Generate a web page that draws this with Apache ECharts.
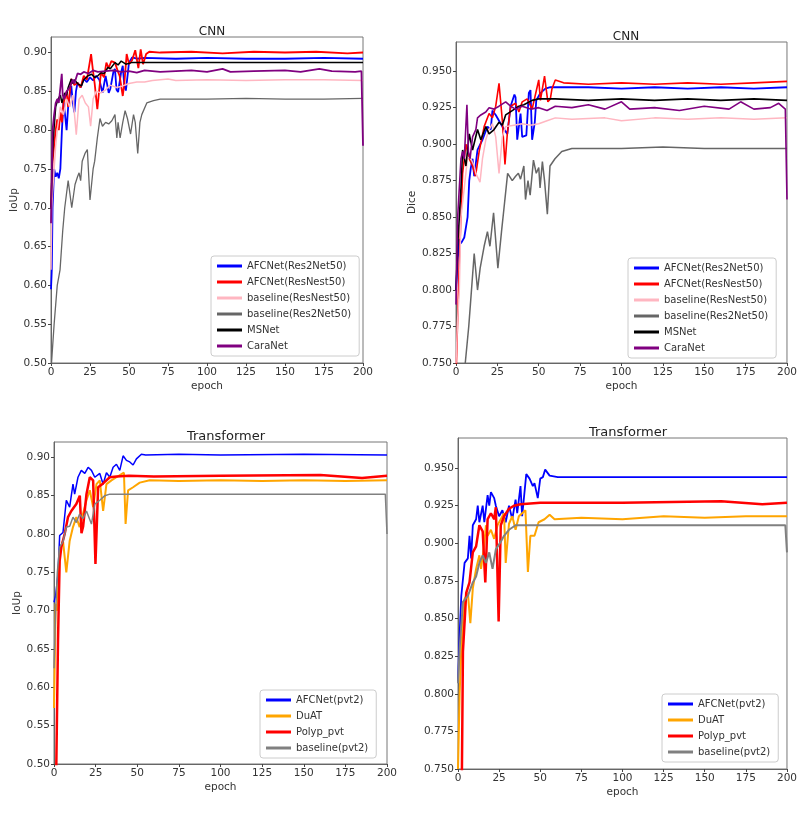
<!DOCTYPE html>
<html lang="en">
<head>
	<meta charset="UTF-8">
	<title>training curves</title>
	<script src="https://cdn.jsdelivr.net/npm/echarts@6/dist/echarts.min.js"></script>
</head>
<body style="margin:0;background:#fff;">
	<div id="main" style="width:800px;height:817px;"></div>
<script type="text/javascript">
	// [epoch, value] pairs
	// --- CNN, IoUp ---
	const cnnIouAfcRes2 = [[0,0.595],[0.5,0.62],[1,0.70],[2,0.75],[3,0.74],[4,0.745],[5,0.738],[6,0.75],[7,0.80],[8,0.836],[9,0.82],[10,0.80],[11,0.83],[12,0.845],[13,0.857],[14,0.835],[15,0.823],[16,0.85],[17,0.861],[19,0.855],[21,0.866],[23,0.862],[25,0.868],[27,0.864],[29,0.87],[31,0.865],[33,0.848],[35,0.87],[37,0.848],[38,0.853],[40,0.875],[41,0.879],[42,0.852],[43,0.849],[45,0.875],[46,0.883],[47,0.857],[48,0.851],[50,0.887],[52,0.8936],[55,0.892],[60,0.893],[80,0.892],[100,0.893],[125,0.892],[150,0.892],[175,0.893],[200,0.892]];
	const cnnIouAfcResN = [[0,0.70],[1,0.76],[2,0.78],[3,0.80],[4,0.814],[5,0.80],[6,0.823],[7,0.81],[8,0.835],[10,0.849],[11,0.83],[13,0.866],[15,0.858],[17,0.861],[19,0.855],[21,0.87],[23,0.865],[25.7,0.898],[27,0.875],[28,0.86],[29.7,0.827],[30.7,0.826],[32,0.874],[34,0.868],[35.5,0.887],[37,0.88],[38.7,0.889],[41,0.887],[43,0.875],[44,0.87],[46,0.844],[47,0.86],[48.5,0.898],[50,0.885],[52,0.89],[54,0.903],[56,0.880],[57.5,0.904],[59,0.885],[61,0.898],[63,0.901],[70,0.900],[90,0.901],[110,0.899],[130,0.901],[150,0.900],[170,0.901],[190,0.899],[200,0.90]];
	const cnnIouBaseResN = [[0,0.62],[0.5,0.70],[1,0.72],[2,0.75],[3,0.78],[4,0.80],[6,0.83],[8,0.82],[10,0.84],[12,0.83],[14,0.845],[16.2,0.794],[18,0.84],[20,0.845],[22,0.835],[24,0.83],[25.4,0.805],[27,0.84],[29,0.85],[32,0.848],[35,0.852],[38,0.858],[42,0.855],[46,0.857],[50,0.86],[55,0.862],[60,0.862],[65,0.864],[75,0.866],[80,0.864],[100,0.865],[125,0.864],[150,0.865],[175,0.865],[200,0.864]];
	const cnnIouBaseRes2 = [[0,0.49],[2,0.55],[4,0.60],[5.8,0.62],[7.5,0.67],[8.8,0.70],[11,0.735],[12,0.72],[13.3,0.70],[15.4,0.73],[17,0.74],[18,0.745],[19,0.735],[20,0.76],[21.8,0.77],[23.3,0.775],[25,0.71],[27,0.75],[28,0.76],[29.7,0.79],[31.4,0.815],[33,0.805],[35,0.81],[37,0.808],[39,0.812],[41,0.82],[42.2,0.79],[43,0.81],[44.3,0.79],[46,0.81],[47.5,0.825],[49,0.815],[51,0.795],[52.9,0.82],[54,0.81],[55.6,0.77],[57,0.81],[58.2,0.82],[61.4,0.835],[65.7,0.838],[70,0.84],[100,0.84],[125,0.841],[150,0.84],[175,0.84],[200,0.841]];
	const cnnIouMsnet = [[0,0.70],[1,0.77],[1.5,0.79],[3,0.83],[4.5,0.84],[6,0.845],[7,0.835],[8.8,0.848],[10,0.845],[11,0.855],[13,0.866],[14,0.86],[15,0.865],[17,0.86],[19.5,0.857],[21,0.865],[23.7,0.87],[26,0.872],[28,0.868],[30,0.87],[32,0.874],[34,0.873],[36.6,0.881],[38,0.879],[41,0.887],[43,0.884],[45,0.889],[48,0.885],[51.6,0.887],[60,0.887],[100,0.887],[150,0.887],[200,0.887]];
	const cnnIouCaranet = [[0,0.68],[1,0.80],[2,0.82],[3,0.835],[4,0.84],[5,0.835],[6.9,0.8725],[7.5,0.845],[8.5,0.84],[10,0.85],[12,0.855],[14,0.865],[15,0.86],[17,0.873],[19,0.872],[21,0.875],[24,0.873],[27,0.877],[30,0.875],[35,0.876],[40,0.877],[45,0.875],[50,0.876],[55,0.874],[60,0.877],[70,0.875],[80,0.876],[90,0.877],[100,0.875],[110,0.879],[115,0.875],[130,0.876],[150,0.877],[160,0.875],[172,0.879],[180,0.876],[195,0.875],[199,0.876],[200,0.78]];

	// --- CNN, Dice ---
	const cnnDiceAfcRes2 = [[0,0.80],[1,0.82],[2,0.835],[3,0.832],[5,0.836],[6,0.835],[7,0.85],[8,0.875],[9,0.884],[10,0.89],[11,0.878],[13,0.896],[16,0.903],[19,0.912],[21,0.91],[22,0.923],[24,0.92],[26,0.916],[28,0.912],[31,0.907],[33,0.926],[35.3,0.934],[36,0.932],[37,0.903],[39,0.921],[40,0.905],[42.5,0.906],[44,0.935],[45,0.937],[46,0.903],[47.6,0.915],[48.5,0.93],[51,0.935],[54,0.938],[57,0.939],[60,0.939],[80,0.939],[100,0.938],[120,0.939],[140,0.938],[160,0.939],[180,0.938],[200,0.939]];
	const cnnDiceAfcResN = [[0,0.74],[1,0.78],[2,0.82],[3,0.85],[4,0.88],[6,0.90],[8,0.89],[10,0.885],[11.8,0.878],[14,0.895],[17,0.912],[20,0.921],[22,0.918],[24,0.926],[26,0.9416],[28,0.916],[29.6,0.886],[31,0.907],[33,0.926],[36,0.928],[38,0.922],[40,0.929],[43,0.931],[46,0.924],[49,0.939],[50,0.944],[51,0.93],[53.5,0.9466],[55.5,0.929],[57,0.931],[58,0.938],[60,0.944],[65,0.942],[80,0.941],[100,0.942],[120,0.941],[140,0.942],[160,0.941],[180,0.942],[200,0.943]];
	const cnnDiceBaseResN = [[0,0.75],[1,0.78],[2,0.80],[3,0.85],[5,0.87],[7,0.891],[9,0.89],[11,0.885],[12,0.88],[14.5,0.874],[16,0.89],[18,0.903],[20,0.91],[22,0.914],[24,0.905],[26,0.88],[28,0.905],[30,0.912],[35,0.913],[40,0.914],[45,0.913],[50,0.914],[55,0.916],[60,0.918],[70,0.917],[90,0.918],[100,0.916],[120,0.918],[140,0.917],[160,0.918],[180,0.917],[200,0.918]];
	const cnnDiceBaseRes2 = [[0,0.62],[2,0.68],[4,0.72],[5.6,0.75],[7.7,0.775],[8.7,0.79],[11,0.825],[13,0.80],[14.6,0.815],[17,0.83],[19,0.84],[20.5,0.83],[22.7,0.853],[25.3,0.815],[27.5,0.84],[28.9,0.855],[31.2,0.88],[34,0.875],[36,0.878],[37.7,0.88],[39,0.876],[41,0.885],[42,0.862],[43.5,0.875],[44.8,0.865],[46.8,0.889],[48.5,0.88],[50,0.884],[50.8,0.87],[52.2,0.888],[53.5,0.875],[55.2,0.852],[56.8,0.885],[59.8,0.89],[63.9,0.895],[70,0.897],[100,0.897],[125,0.898],[150,0.897],[200,0.897]];
	const cnnDiceMsnet = [[0,0.80],[1,0.83],[2,0.85],[3,0.87],[4,0.896],[6,0.885],[8,0.907],[10,0.896],[13,0.91],[15,0.903],[18,0.912],[20,0.907],[23,0.91],[26,0.915],[28,0.913],[30,0.92],[34,0.923],[38,0.926],[41,0.927],[46,0.93],[50,0.931],[60,0.931],[80,0.930],[100,0.931],[120,0.930],[140,0.931],[160,0.930],[180,0.931],[200,0.930]];
	const cnnDiceCaranet = [[0,0.79],[1,0.85],[2,0.87],[3,0.89],[4,0.895],[5,0.89],[6.6,0.927],[7.5,0.895],[8.5,0.89],[10,0.905],[12,0.91],[13,0.918],[15,0.92],[18,0.922],[20,0.925],[23,0.924],[26,0.926],[30,0.929],[33,0.926],[36,0.924],[40,0.926],[45,0.924],[50,0.925],[55,0.923],[60,0.926],[70,0.925],[80,0.927],[90,0.924],[100,0.929],[105,0.924],[120,0.925],[135,0.923],[150,0.926],[165,0.924],[172,0.929],[180,0.924],[190,0.925],[195,0.928],[199,0.924],[200,0.862]];

	// --- Transformer, IoUp ---
	const trIouAfc = [[0,0.711],[1,0.72],[2.4,0.748],[3.4,0.798],[5.4,0.802],[7.4,0.844],[9.4,0.835],[11.4,0.865],[12.4,0.852],[14.4,0.874],[16.4,0.883],[18.5,0.879],[20.5,0.887],[22.5,0.883],[24.5,0.874],[27.5,0.879],[29.5,0.865],[31.5,0.88],[33.5,0.874],[35.5,0.887],[37.5,0.891],[39.5,0.883],[41.5,0.902],[43.5,0.896],[45.5,0.894],[47.5,0.89],[49.5,0.898],[52.5,0.904],[55,0.903],[75,0.904],[100,0.903],[150,0.904],[200,0.903]];
	const trIouDuat = [[0,0.573],[1,0.709],[2,0.70],[3.4,0.778],[5.4,0.791],[7.4,0.75],[9.4,0.791],[11.4,0.809],[13.4,0.822],[15.4,0.809],[17.4,0.826],[19.5,0.844],[21.5,0.857],[23.5,0.835],[25.5,0.865],[27.5,0.87],[29.5,0.83],[31.5,0.865],[34.5,0.87],[37.5,0.874],[40.5,0.878],[42,0.88],[43,0.813],[44.5,0.857],[47.5,0.861],[51.5,0.867],[57.5,0.87],[75,0.869],[100,0.87],[125,0.869],[150,0.87],[175,0.869],[200,0.87]];
	const trIouPolyp = [[1,0.45],[1.4,0.50],[2.4,0.66],[3.4,0.765],[4.4,0.783],[6.4,0.80],[8.4,0.822],[10.4,0.83],[13.4,0.839],[15.5,0.85],[16.5,0.801],[17.5,0.81],[19.5,0.852],[21.5,0.874],[23.5,0.87],[24.9,0.761],[26.5,0.861],[29.5,0.866],[33.5,0.874],[37.5,0.875],[45,0.876],[60,0.875],[100,0.876],[160,0.877],[185,0.873],[200,0.876]];
	const trIouBase = [[0,0.625],[1,0.70],[2,0.75],[3.4,0.783],[5.4,0.79],[7.4,0.809],[9.4,0.81],[11.4,0.822],[13.4,0.815],[15.4,0.826],[17.4,0.82],[19.5,0.83],[22.5,0.813],[24.5,0.839],[27.5,0.844],[30.5,0.85],[33.5,0.852],[40,0.852],[100,0.852],[172,0.852],[199,0.852],[200,0.80]];

	// --- Transformer, Dice ---
	const trDiceAfc = [[0,0.808],[1,0.84],[2,0.865],[4,0.887],[6,0.89],[7,0.905],[8,0.89],[9,0.912],[11,0.916],[12,0.925],[13,0.914],[15,0.925],[16,0.914],[18,0.932],[19,0.925],[20,0.934],[22,0.93],[23,0.925],[25,0.918],[27,0.922],[29,0.914],[31,0.925],[33,0.916],[35,0.929],[36,0.92],[38,0.938],[39,0.918],[41.5,0.946],[43.5,0.943],[45.5,0.938],[46.5,0.94],[48.5,0.93],[50,0.943],[51.6,0.944],[53,0.949],[55.7,0.945],[60.7,0.944],[100,0.944],[150,0.944],[200,0.944]];
	const trDicePolyp = [[2,0.70],[3,0.828],[5,0.867],[7,0.874],[9,0.894],[11,0.898],[13,0.912],[15,0.908],[16.6,0.874],[18,0.916],[20,0.92],[22,0.916],[23,0.924],[24.7,0.848],[26,0.912],[28,0.918],[31,0.923],[34,0.925],[38,0.926],[50,0.927],[100,0.927],[160,0.928],[185,0.926],[200,0.927]];
	const trDiceDuat = [[0,0.75],[1,0.80],[2,0.83],[4,0.863],[6,0.867],[7.5,0.847],[9,0.87],[11,0.883],[13,0.892],[14,0.883],[15.8,0.898],[17,0.912],[18,0.905],[20,0.909],[22,0.903],[24,0.912],[26,0.916],[28,0.92],[29,0.887],[31,0.913],[33,0.918],[35,0.909],[37,0.918],[39,0.92],[41,0.922],[42.5,0.881],[44,0.905],[46.5,0.905],[49,0.914],[52.6,0.916],[55.7,0.919],[58.7,0.916],[75,0.917],[100,0.916],[125,0.918],[150,0.917],[175,0.918],[200,0.918]];
	const trDiceBase = [[0,0.807],[1,0.83],[3,0.861],[6,0.865],[9,0.874],[11,0.878],[13,0.887],[15,0.892],[17,0.887],[19,0.894],[21,0.883],[23,0.896],[26,0.901],[28,0.905],[31,0.909],[35,0.912],[40,0.912],[100,0.912],[199,0.912],[200,0.894]];

	const cnnNames = ['AFCNet(Res2Net50)', 'AFCNet(ResNest50)', 'baseline(ResNest50)', 'baseline(Res2Net50)', 'MSNet', 'CaraNet'];
	const trNames = ['AFCNet(pvt2)', 'DuAT', 'Polyp_pvt', 'baseline(pvt2)'];
	const epochTicks = [0, 200, 25];

	const font = 'DejaVu Sans';
	let myChart = echarts.init(document.getElementById('main'));

	// grid boxes, in pixels
	const boxes = [
		{ left: 51, top: 37, width: 312, height: 326 },
		{ left: 456, top: 42, width: 332, height: 321 },
		{ left: 54, top: 442, width: 333, height: 322 },
		{ left: 458, top: 438, width: 330, height: 331 }
	];

	function makeLine(name, data, color, width, idx) {
		return {
			name: name,
			type: 'line',
			xAxisIndex: idx,
			yAxisIndex: idx,
			data: data,
			symbol: 'none',
			smooth: false,
			animation: false,
			lineStyle: { color: color, width: width },
			itemStyle: { color: color },
			clip: true
		};
	}

	function makeX(idx) {
		return {
			type: 'value', gridIndex: idx,
			min: epochTicks[0], max: epochTicks[1], interval: epochTicks[2],
			name: 'epoch', nameLocation: 'middle', nameGap: 18,
			nameTextStyle: { fontFamily: font, fontSize: 10.5, color: '#333' },
			axisLine: { show: true, lineStyle: { color: '#666' } },
			axisTick: { show: true, length: 3, lineStyle: { color: '#444' } },
			axisLabel: { fontFamily: font, fontSize: 10.5, color: '#333', margin: 4 },
			splitLine: { show: false }
		};
	}

	function makeY(idx, min, max, step, digits, label) {
		return {
			type: 'value', gridIndex: idx,
			min: min, max: max, interval: step,
			name: label, nameLocation: 'middle', nameGap: digits === 2 ? 31 : 38,
			nameRotate: 90,
			nameTextStyle: { fontFamily: font, fontSize: 10.5, color: '#333' },
			axisLine: { show: true, lineStyle: { color: '#666' } },
			axisTick: { show: true, length: 3, lineStyle: { color: '#444' } },
			axisLabel: {
				fontFamily: font, fontSize: 10.5, color: '#333', margin: 4,
				showMaxLabel: false,
				formatter: function (v) { return v.toFixed(digits); }
			},
			splitLine: { show: false }
		};
	}

	function makeLegend(names, left, top) {
		return {
			data: names,
			orient: 'vertical',
			left: left, top: top,
			icon: 'rect',
			itemWidth: 25, itemHeight: 3,
			itemGap: 6,
			padding: [5, 8, 5, 6],
			backgroundColor: '#fff',
			borderColor: '#ccc', borderWidth: 1, borderRadius: 3,
			textStyle: { fontFamily: font, fontSize: 10, color: '#333' },
			selectedMode: false
		};
	}

	let option = {
		backgroundColor: '#fff',
		animation: false,
		title: [
			{ text: 'CNN', left: 207, top: 21, textAlign: 'center', fs: 12 },
			{ text: 'CNN', left: 621, top: 26, textAlign: 'center', fs: 12 },
			{ text: 'Transformer', left: 221, top: 425, textAlign: 'center', fs: 13 },
			{ text: 'Transformer', left: 623, top: 421, textAlign: 'center', fs: 13 }
		].map(function (t) {
			t.textStyle = { fontFamily: font, fontSize: t.fs, fontWeight: 'normal', color: '#222' };
			delete t.fs;
			return t;
		}),
		grid: boxes.map(function (b) {
			return Object.assign({ show: true, borderColor: '#777', borderWidth: 1, backgroundColor: '#fff', containLabel: false }, b);
		}),
		xAxis: [makeX(0), makeX(1), makeX(2), makeX(3)],
		yAxis: [
			makeY(0, 0.5, 0.92, 0.05, 2, 'IoUp'),
			makeY(1, 0.75, 0.97, 0.025, 3, 'Dice'),
			makeY(2, 0.5, 0.92, 0.05, 2, 'IoUp'),
			makeY(3, 0.75, 0.97, 0.025, 3, '')
		],
		legend: [
			makeLegend(cnnNames, 211, 256),
			makeLegend(cnnNames, 628, 258),
			makeLegend(trNames, 260, 690),
			makeLegend(trNames, 662, 694)
		],
		series: [
			makeLine(cnnNames[0], cnnIouAfcRes2, '#0000ff', 1.8, 0),
			makeLine(cnnNames[1], cnnIouAfcResN, '#ff0000', 1.8, 0),
			makeLine(cnnNames[2], cnnIouBaseResN, '#ffb6c1', 1.5, 0),
			makeLine(cnnNames[3], cnnIouBaseRes2, '#666666', 1.3, 0),
			makeLine(cnnNames[4], cnnIouMsnet, '#000000', 1.5, 0),
			makeLine(cnnNames[5], cnnIouCaranet, '#800080', 1.8, 0),

			makeLine(cnnNames[0], cnnDiceAfcRes2, '#0000ff', 1.8, 1),
			makeLine(cnnNames[1], cnnDiceAfcResN, '#ff0000', 1.6, 1),
			makeLine(cnnNames[2], cnnDiceBaseResN, '#ffb6c1', 1.5, 1),
			makeLine(cnnNames[3], cnnDiceBaseRes2, '#666666', 1.5, 1),
			makeLine(cnnNames[4], cnnDiceMsnet, '#000000', 1.6, 1),
			makeLine(cnnNames[5], cnnDiceCaranet, '#800080', 1.6, 1),

			makeLine(trNames[0], trIouAfc, '#0000ff', 1.5, 2),
			makeLine(trNames[1], trIouDuat, '#ffa500', 2, 2),
			makeLine(trNames[2], trIouPolyp, '#ff0000', 2.5, 2),
			makeLine(trNames[3], trIouBase, '#808080', 1.5, 2),

			makeLine(trNames[0], trDiceAfc, '#0000ff', 1.8, 3),
			makeLine(trNames[1], trDiceDuat, '#ffa500', 2, 3),
			makeLine(trNames[2], trDicePolyp, '#ff0000', 2.5, 3),
			makeLine(trNames[3], trDiceBase, '#808080', 2, 3)
		]
	};
	myChart.setOption(option);
</script>
</body>
</html>
